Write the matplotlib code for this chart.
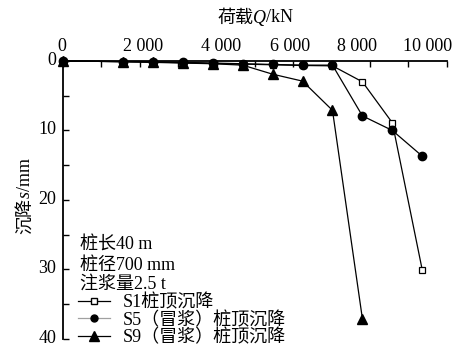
import matplotlib
matplotlib.use("Agg")
import matplotlib.pyplot as plt
from matplotlib.lines import Line2D
from matplotlib.ticker import MultipleLocator, FuncFormatter
from matplotlib.transforms import ScaledTranslation
from matplotlib.offsetbox import TextArea, HPacker, AnnotationBbox

SERIF_CJK = ['Liberation Serif', 'Noto Sans CJK SC']
plt.rcParams['font.family'] = SERIF_CJK

# Load steps (kN) and pile-head settlements (mm)
loads = [0, 1560, 2340, 3120, 3900, 4680, 5460, 6240, 7020, 7800, 8580, 9360]
s1 = [0, 0.1, 0.15, 0.25, 0.35, 0.45, 0.55, 0.65, 0.7, 3.0, 8.9, 30.1]
s5 = [0, 0.1, 0.15, 0.2, 0.3, 0.4, 0.5, 0.6, 0.6, 7.9, 10.0, 13.7]
loads_s9 = [0, 1560, 2340, 3120, 3900, 4680, 5460, 6240, 7020, 7800]
s9 = [0, 0.1, 0.2, 0.3, 0.4, 0.6, 1.9, 2.9, 7.1, 37.1]

labels = ['S1桩顶沉降', 'S5（冒浆）桩顶沉降', 'S9（冒浆）桩顶沉降']
notes = ['桩长40 m', '桩径700 mm', '注浆量2.5 t']

FS = 13

fig = plt.figure(figsize=(4.65, 3.47), dpi=100)
ax = fig.add_axes([0.1355, 0.0231, 0.8255, 0.8012])

lw = 0.9
ax.plot(loads, s1, color='black', lw=lw, marker='s', ms=5, mfc='white',
        mec='black', mew=0.9, clip_on=False, zorder=3)
ax.plot(loads, s5, color='black', lw=lw, marker='o', ms=6, mfc='black',
        mec='black', clip_on=False, zorder=3)
ax.plot(loads_s9, s9, color='black', lw=lw, marker='^', ms=7, mfc='black',
        mec='black', clip_on=False, zorder=3)

ax.set_xlim(0, 10000)
ax.set_ylim(40, 0)

ax.xaxis.tick_top()
ax.xaxis.set_major_locator(MultipleLocator(2000))
ax.xaxis.set_minor_locator(MultipleLocator(1000))
ax.xaxis.set_major_formatter(FuncFormatter(
    lambda v, p: '0' if v == 0 else f'{int(v):,}'.replace(',', ' ')))
ax.yaxis.set_major_locator(MultipleLocator(10))
ax.yaxis.set_minor_locator(MultipleLocator(5))

ax.tick_params(axis='both', which='both', direction='in', length=4,
               width=1.0, labelsize=FS)
ax.tick_params(axis='x', which='both', top=True, bottom=False, pad=4)
ax.tick_params(axis='y', which='both', left=True, right=False, pad=5)

for side in ('right', 'bottom'):
    ax.spines[side].set_visible(False)
for side in ('left', 'top'):
    ax.spines[side].set_linewidth(1.3)

# Axis titles with an italic symbol, assembled from separate text runs
xlab = HPacker(children=[
    TextArea('荷载', textprops=dict(fontsize=FS, family=SERIF_CJK)),
    TextArea('Q', textprops=dict(fontsize=FS, family='Liberation Serif', style='italic')),
    TextArea('/kN', textprops=dict(fontsize=FS, family='Liberation Serif')),
], align='baseline', pad=0, sep=0)
fig.add_artist(AnnotationBbox(xlab, (0.549, 1 - 18 / 347), xycoords='figure fraction',
                              frameon=False, box_alignment=(0.5, 0.5)))

t = ax.annotate('沉降', xy=(25, 347 - 234), xycoords='figure pixels', rotation=90,
                ha='center', va='bottom', fontsize=FS, annotation_clip=False)
t = ax.annotate('s', xy=(0.5, 1), xycoords=t, rotation=90, ha='center', va='bottom',
                fontsize=FS, style='italic', family='Liberation Serif', annotation_clip=False)
t = ax.annotate('/mm', xy=(0.5, 1), xycoords=t, rotation=90, ha='center', va='bottom',
                fontsize=FS, family='Liberation Serif', annotation_clip=False)

for i, s in enumerate(notes):
    ax.text(0.044, 0.336 - i * 0.07, s, transform=ax.transAxes,
            fontsize=FS, va='center', ha='left')

handles = [
    Line2D([], [], color='black', lw=lw, marker='s', ms=4.5, mfc='white', mec='black'),
    Line2D([], [], color='#a0a0a0', lw=lw, marker='o', ms=5, mfc='black', mec='black'),
    Line2D([], [], color='black', lw=lw, marker='^', ms=7, mfc='black', mec='black'),
]
ax.legend(handles, labels, loc='lower left', bbox_to_anchor=(0.01, -0.065),
          frameon=False, fontsize=FS, handlelength=1.8, handletextpad=0.7,
          labelspacing=0.0, borderaxespad=0.2)

# Nudge the tick labels slightly off their ticks
fig.canvas.draw()
shifts_px = {0: -1, 2000: 3, 4000: 5, 6000: -3, 8000: -13, 10000: -19}
for lab in ax.get_xticklabels():
    xv = round(lab.get_position()[0])
    if xv in shifts_px:
        lab.set_transform(lab.get_transform()
                          + ScaledTranslation(shifts_px[xv] / 100, 0, fig.dpi_scale_trans))
for lab in ax.get_yticklabels():
    lab.set_transform(lab.get_transform()
                      + ScaledTranslation(0, 2.5 / 100, fig.dpi_scale_trans))

fig.savefig('out.png', dpi=100)
